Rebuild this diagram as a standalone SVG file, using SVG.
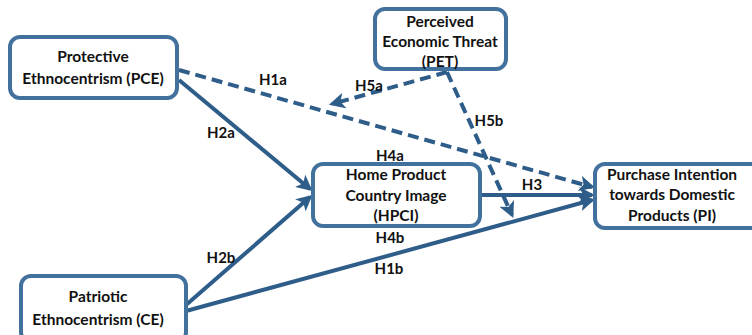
<svg xmlns="http://www.w3.org/2000/svg" width="752" height="335" viewBox="0 0 752 335">
  <style>
    .box { fill: #ffffff; stroke: #41719c; stroke-width: 4; }
    .txt { font-family: Lato, "Open Sans", "Liberation Sans", sans-serif; font-weight: bold; font-size: 15.5px; fill: #111111; text-anchor: middle; }
    .lbl { font-family: Lato, "Open Sans", "Liberation Sans", sans-serif; font-weight: bold; font-size: 15px; fill: #111111; text-anchor: middle; }
    .solid { fill: none; stroke: #2e5d8a; stroke-width: 4; marker-end: url(#arrow); }
    .dash { fill: none; stroke: #2e5d8a; stroke-width: 4; stroke-dasharray: 11 6; marker-end: url(#arrow); }
  </style>
  <defs>
    <marker id="arrow" viewBox="0 0 10 10" refX="8" refY="5" markerWidth="4" markerHeight="4" orient="auto" markerUnits="strokeWidth">
      <path d="M0,0 L10,5 L0,10 L2.5,5 Z" fill="#2e5d8a"/>
    </marker>
  </defs>
  <rect width="752" height="335" fill="#ffffff"/>

  <g id="connectors">
    <path class="dash" d="M179,70 L592,187"/>
    <path class="solid" d="M179,80 L310,189"/>
    <path class="solid" d="M186,305 L310,197"/>
    <path class="solid" d="M186,311 L592,200"/>
    <path class="solid" d="M481,195 L592,195"/>
    <path class="dash" d="M447,72 L332,104"/>
    <path class="dash" d="M447,72 L512,215"/>
  </g>

  <g id="labels">
    <text class="lbl" x="273" y="85">H1a</text>
    <text class="lbl" x="369" y="91">H5a</text>
    <text class="lbl" x="221" y="138">H2a</text>
    <text class="lbl" x="489" y="126">H5b</text>
    <text class="lbl" x="390" y="161">H4a</text>
    <text class="lbl" x="532" y="190">H3</text>
    <text class="lbl" x="221" y="263">H2b</text>
    <text class="lbl" x="390" y="243">H4b</text>
    <text class="lbl" x="389" y="274">H1b</text>
  </g>

  <g id="pce">
    <rect class="box" x="10" y="37" width="167" height="61" rx="10"/>
    <text class="txt" x="93" y="62">Protective</text>
    <text class="txt" x="93" y="84">Ethnocentrism (PCE)</text>
  </g>

  <g id="pet">
    <rect class="box" x="375" y="9" width="131" height="60" rx="10"/>
    <text class="txt" x="440" y="27">Perceived</text>
    <text class="txt" x="440" y="47">Economic Threat</text>
    <text class="txt" x="440" y="67">(PET)</text>
  </g>

  <g id="hpci">
    <rect class="box" x="313" y="164" width="167" height="62" rx="10"/>
    <text class="txt" x="396" y="180">Home Product</text>
    <text class="txt" x="396" y="201">Country Image</text>
    <text class="txt" x="396" y="221">(HPCI)</text>
  </g>

  <g id="pi">
    <rect class="box" x="595" y="164" width="170" height="64" rx="10"/>
    <text class="txt" x="672" y="180">Purchase Intention</text>
    <text class="txt" x="672" y="200">towards Domestic</text>
    <text class="txt" x="672" y="221">Products (PI)</text>
  </g>

  <g id="ce">
    <rect class="box" x="21" y="276" width="165" height="66" rx="10"/>
    <text class="txt" x="98" y="302">Patriotic</text>
    <text class="txt" x="98" y="325">Ethnocentrism (CE)</text>
  </g>
</svg>
